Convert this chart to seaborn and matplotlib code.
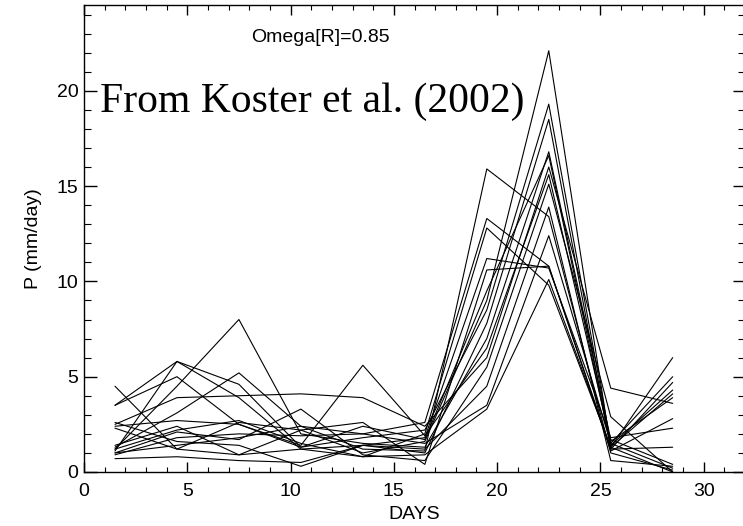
import pandas as pd
import matplotlib
matplotlib.use("Agg")
import matplotlib.pyplot as plt
from matplotlib.ticker import MultipleLocator
import seaborn as sns

# forecast days (3-day means)
days = [1.5, 4.5, 7.5, 10.5, 13.5, 16.5, 19.5, 22.5, 25.5, 28.5]

# ensemble members, precipitation in mm/day
m01 = [4.5, 1.2, 2.6, 2.2, 1.0, 1.6, 9.0, 22.1, 1.3, 0.0]
m02 = [3.5, 5.0, 2.5, 1.3, 1.8, 2.2, 8.5, 19.3, 1.5, 0.2]
m03 = [3.5, 5.8, 3.9, 1.2, 1.4, 1.0, 7.8, 18.5, 1.2, 4.7]
m04 = [1.2, 4.5, 8.0, 2.0, 1.5, 1.3, 7.0, 16.8, 1.7, 0.4]
m05 = [1.1, 5.8, 4.6, 1.3, 2.4, 1.7, 9.5, 16.6, 1.4, 4.3]
m06 = [2.5, 3.9, 4.0, 4.1, 3.9, 2.4, 6.0, 16.0, 4.4, 3.6]
m07 = [1.3, 3.1, 5.2, 2.4, 1.2, 1.1, 15.9, 13.4, 1.0, 0.1]
m08 = [2.4, 2.7, 2.5, 1.4, 5.6, 1.9, 6.5, 15.6, 1.6, 3.9]
m09 = [1.0, 2.1, 1.7, 3.3, 0.9, 0.6, 5.5, 15.1, 2.9, 0.0]
m10 = [0.9, 1.8, 2.0, 1.9, 2.0, 2.6, 13.3, 10.8, 1.1, 2.8]
m11 = [2.6, 1.6, 1.4, 0.3, 1.4, 1.8, 11.2, 10.7, 1.8, 2.3]
m12 = [1.4, 2.4, 0.9, 2.2, 2.6, 0.4, 10.6, 10.8, 1.2, 1.3]
m13 = [0.7, 0.8, 0.6, 0.5, 1.4, 1.2, 4.5, 13.9, 0.6, 0.3]
m14 = [2.3, 1.2, 0.9, 1.2, 0.8, 0.9, 3.3, 10.1, 1.3, 4.1]
m15 = [1.0, 1.4, 1.8, 2.4, 2.0, 1.5, 3.5, 12.4, 1.5, 5.0]
m16 = [1.2, 2.2, 2.7, 1.5, 0.8, 2.0, 12.8, 9.8, 1.3, 6.0]

members = [m01, m02, m03, m04, m05, m06, m07, m08,
           m09, m10, m11, m12, m13, m14, m15, m16]

rows = []
for i, vals in enumerate(members):
    for d, v in zip(days, vals):
        rows.append({"member": i, "day": d, "precip": v})
df = pd.DataFrame(rows)

sns.set_style("ticks")
plt.rcParams["font.family"] = ["Liberation Sans", "DejaVu Sans"]
plt.rcParams["text.color"] = "black"
plt.rcParams["axes.labelcolor"] = "black"

fig = plt.figure(figsize=(7.43, 5.26), dpi=100)
ax = fig.add_axes([84 / 743, 54 / 526, 661 / 743, 467 / 526])

sns.lineplot(data=df, x="day", y="precip", units="member", estimator=None,
             color="black", linewidth=0.8, ax=ax)

ax.set_xlim(0, 32)
ax.set_ylim(0, 24.5)
ax.set_xticks([0, 5, 10, 15, 20, 25, 30])
ax.xaxis.set_minor_locator(MultipleLocator(1))
ax.yaxis.set_major_locator(MultipleLocator(5))
ax.yaxis.set_minor_locator(MultipleLocator(1))

for s in ax.spines.values():
    s.set_visible(True)
    s.set_linewidth(1.0)
    s.set_color("black")

ax.tick_params(axis="both", which="both", direction="in", top=True, right=True,
               colors="black", labelsize=14)
ax.tick_params(axis="x", which="major", length=7, width=1.0, pad=8)
ax.tick_params(axis="x", which="minor", length=3.5, width=0.8)
ax.tick_params(axis="y", which="major", length=9, width=1.0, pad=4)
ax.tick_params(axis="y", which="minor", length=5, width=0.8)

ax.set_xlabel("DAYS", fontsize=14)
ax.set_ylabel("P (mm/day)", fontsize=14)
ax.xaxis.set_label_coords(0.5, -0.072)
ax.yaxis.set_label_coords(-0.064, 0.5)

ax.text(8.1, 22.8, "Omega[R]=0.85", fontsize=14, va="center", ha="left")
ax.text(0.77, 18.9, "From Koster et al. (2002)", fontsize=30,
        family="Liberation Serif", va="baseline", ha="left")

fig.savefig("out.png", dpi=100)
